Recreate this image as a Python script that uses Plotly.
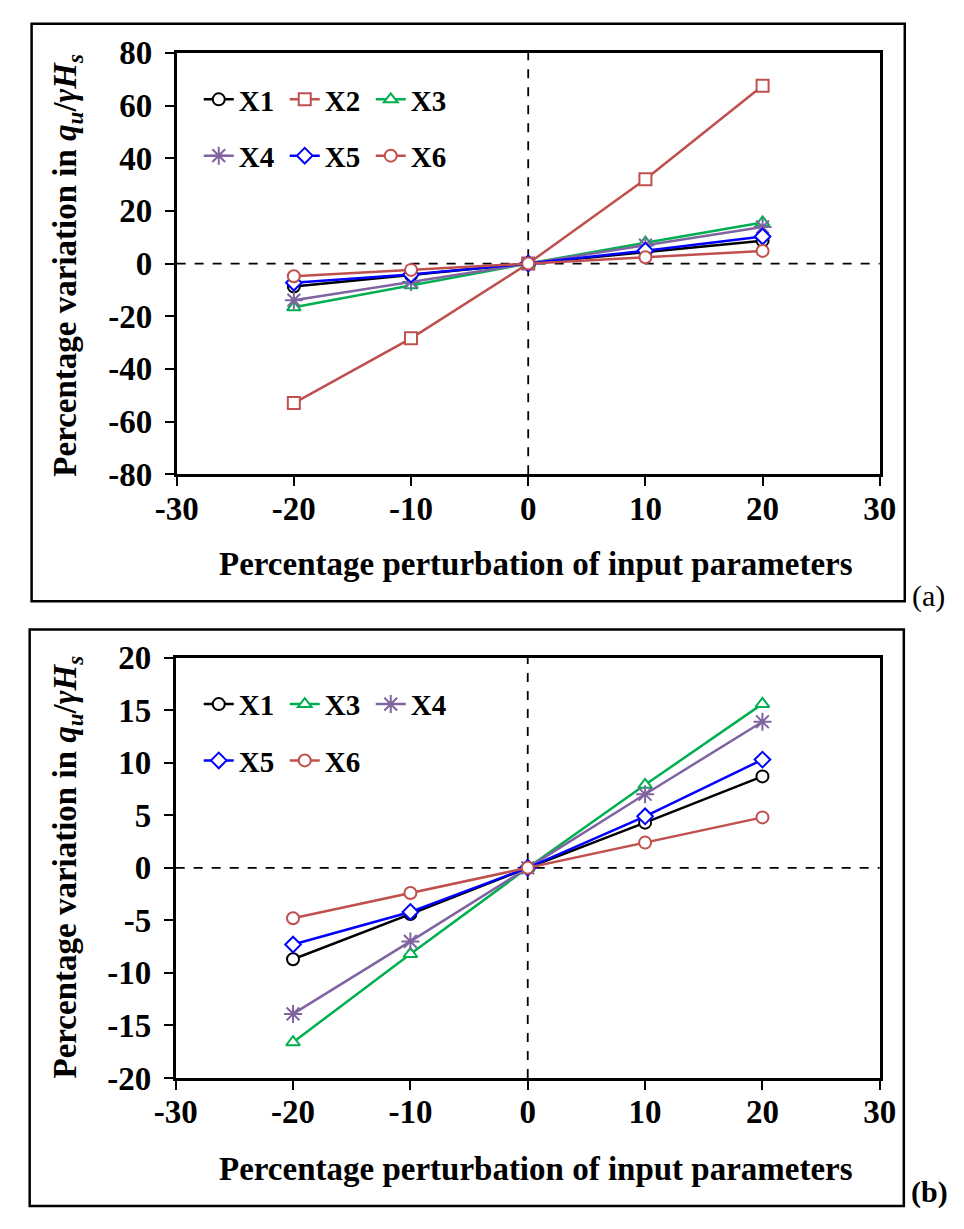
import plotly.graph_objects as go

W, H = 964, 1229

perturbation = [-20, -10, 0, 10, 20]
x1_vals = [-8.7, -4.4, 0, 4.3, 8.7]
x2_vals = [-53.0, -28.4, 0, 32.0, 67.5]
x3_vals = [-16.6, -8.2, 0, 7.9, 15.6]
x4_vals = [-13.9, -7.0, 0, 7.0, 13.9]
x5_vals = [-7.3, -4.2, 0, 4.9, 10.3]
x6_vals = [-4.8, -2.4, 0, 2.4, 4.8]

series_names = ["X1", "X2", "X3", "X4", "X5", "X6"]
series_vals = [x1_vals, x2_vals, x3_vals, x4_vals, x5_vals, x6_vals]
series_colors = ["#000000", "#C0504D", "#00B050", "#8064A2", "#0000FF", "#C0504D"]
series_symbols = ["circle", "square", "triangle-up", "asterisk-open", "diamond", "circle"]

x_ticks = [-30, -20, -10, 0, 10, 20, 30]
ya_ticks = [-80, -60, -40, -20, 0, 20, 40, 60, 80]
yb_ticks = [-20, -15, -10, -5, 0, 5, 10, 15, 20]

FONT = "Liberation Serif"


def px_x(p):
    return p / W


def px_y(p):
    return 1 - p / H


def marker_for(sym, col):
    if sym.endswith("-open"):
        return dict(symbol=sym, size=15, color=col, line=dict(color=col, width=2))
    return dict(symbol=sym, size=12, color="white", line=dict(color=col, width=2))


fig = go.Figure()

# panel (a): legend rows -> legend (X1-X3), legend2 (X4-X6)
for i, (name, vals, col, sym) in enumerate(zip(series_names, series_vals, series_colors, series_symbols)):
    fig.add_trace(go.Scatter(
        x=perturbation, y=vals, name=name, mode="lines+markers",
        line=dict(color=col, width=2.5),
        marker=marker_for(sym, col),
        xaxis="x", yaxis="y",
        legend="legend" if i < 3 else "legend2",
    ))

# panel (b): X1, X3, X4 in legend3; X5, X6 in legend4
b_order = [0, 2, 3, 4, 5]
for k, i in enumerate(b_order):
    name, vals, col, sym = series_names[i], series_vals[i], series_colors[i], series_symbols[i]
    fig.add_trace(go.Scatter(
        x=perturbation, y=vals, name=name, mode="lines+markers",
        line=dict(color=col, width=2.5),
        marker=marker_for(sym, col),
        xaxis="x2", yaxis="y2",
        legend="legend3" if k < 3 else "legend4",
    ))

tickfont = dict(family=FONT, size=33, color="black", weight="bold")
axis_common = dict(
    showline=True, linecolor="black", linewidth=2.5, mirror=True,
    ticks="outside", ticklen=9, tickwidth=2, tickcolor="black",
    showgrid=False, zeroline=False, tickfont=tickfont,
)

fig.update_layout(
    width=W, height=H,
    margin=dict(l=0, r=0, t=0, b=0),
    paper_bgcolor="white", plot_bgcolor="white",
    xaxis=dict(domain=[px_x(161), px_x(893)], range=[-30, 30],
               tickvals=x_ticks, ticktext=[str(v) for v in x_ticks],
               anchor="y", ticklabelstandoff=-6, **axis_common),
    yaxis=dict(domain=[px_y(471), px_y(37)], range=[-80, 80],
               tickvals=ya_ticks, ticktext=[str(v) for v in ya_ticks],
               anchor="x", ticklabelstandoff=6, **axis_common),
    xaxis2=dict(domain=[px_x(160), px_x(893)], range=[-30, 30],
                tickvals=x_ticks, ticktext=[str(v) for v in x_ticks],
                anchor="y2", ticklabelstandoff=-6, **axis_common),
    yaxis2=dict(domain=[px_y(1093), px_y(660)], range=[-20, 20],
                tickvals=yb_ticks, ticktext=[str(v) for v in yb_ticks],
                anchor="x2", ticklabelstandoff=6, **axis_common),
)

legend_common = dict(
    orientation="h", xanchor="left", yanchor="middle",
    font=dict(family=FONT, size=29, color="black", weight="bold"),
    bgcolor="rgba(0,0,0,0)", borderwidth=0,
    entrywidth=41, entrywidthmode="pixels", itemwidth=30,
)
fig.update_layout(
    legend=dict(x=px_x(184), y=px_y(85), **legend_common),
    legend2=dict(x=px_x(184), y=px_y(143), **legend_common),
    legend3=dict(x=px_x(184), y=px_y(708), **legend_common),
    legend4=dict(x=px_x(184), y=px_y(766), **legend_common),
)

shapes = []
# dashed reference lines
for xa, ya, yr in [("x", "y", 80), ("x2", "y2", 20)]:
    shapes.append(dict(type="line", xref=xa, yref=ya, x0=0, x1=0, y0=-yr, y1=yr,
                       line=dict(color="black", width=1.8, dash="dash"), layer="below"))
    shapes.append(dict(type="line", xref=xa, yref=ya, x0=-30, x1=30, y0=0, y1=0,
                       line=dict(color="black", width=1.8, dash="dash"), layer="below"))
# outer frames
shapes.append(dict(type="rect", xref="paper", yref="paper",
                   x0=px_x(10), x1=px_x(919), y0=px_y(602), y1=px_y(7),
                   line=dict(color="black", width=2.5)))
shapes.append(dict(type="rect", xref="paper", yref="paper",
                   x0=px_x(8), x1=px_x(918), y0=px_y(1225), y1=px_y(631),
                   line=dict(color="black", width=2.5)))
fig.update_layout(shapes=shapes)

title_font = dict(family=FONT, size=33, color="black", weight="bold")
ytitle = "Percentage variation in <i>q<sub>u</sub></i>/<i>γH<sub>s</sub></i>"
xtitle = "Percentage perturbation of input parameters"
annotations = [
    dict(text=xtitle, xref="paper", yref="paper", x=px_x(535), y=px_y(563),
         showarrow=False, font=title_font, xanchor="center", yanchor="middle"),
    dict(text=xtitle, xref="paper", yref="paper", x=px_x(535), y=px_y(1187),
         showarrow=False, font=title_font, xanchor="center", yanchor="middle"),
    dict(text=ytitle, xref="paper", yref="paper", x=px_x(47), y=px_y(256),
         showarrow=False, font=title_font, textangle=-90, xanchor="center", yanchor="middle"),
    dict(text=ytitle, xref="paper", yref="paper", x=px_x(47), y=px_y(876),
         showarrow=False, font=title_font, textangle=-90, xanchor="center", yanchor="middle"),
    dict(text="(a)", xref="paper", yref="paper", x=px_x(944), y=px_y(596),
         showarrow=False, font=dict(family=FONT, size=30, color="black"),
         xanchor="center", yanchor="middle"),
    dict(text="(b)", xref="paper", yref="paper", x=px_x(945), y=px_y(1210),
         showarrow=False, font=dict(family=FONT, size=30, color="black", weight="bold"),
         xanchor="center", yanchor="middle"),
]
fig.update_layout(annotations=annotations)

fig.write_html(
    "out.html",
    config={"displayModeBar": False},
    post_script="document.body.style.margin='0';document.body.style.overflow='hidden';",
)
